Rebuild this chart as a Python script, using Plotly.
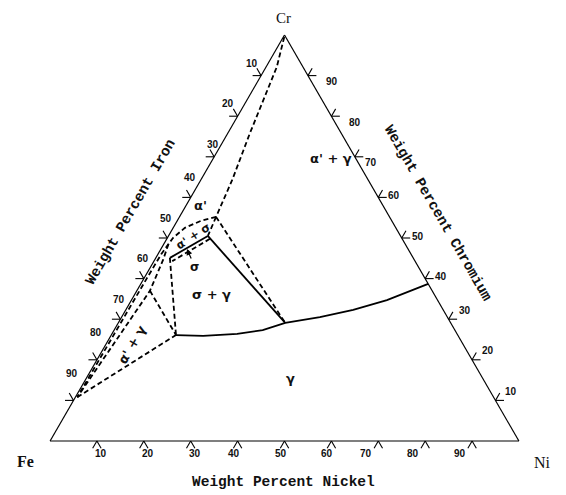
import plotly.graph_objects as go

# Fe-Cr-Ni section, compositions as wt% Cr / wt% Ni (Fe is the balance)
gamma_cr = [26.1, 25.9, 26.4, 27.3, 29.1, 30.5, 32.3, 34.7, 38.7]
gamma_ni = [13.8, 19.7, 26.7, 31.7, 35.6, 42.3, 48.5, 54.5, 61.3]
sig_gam_cr = [29.1, 50.5]
sig_gam_ni = [35.6, 8.4]
sigma_cr = [50.5, 45.1]
sigma_ni = [8.4, 3.0]

# dashed boundaries
alpha_top_cr = [99.5, 92.1, 75.9, 64.3, 55.2]
alpha_top_ni = [0.2, 2.3, 4.7, 6.7, 7.8]
dome_cr = [55.2, 54.2, 52.5, 50.0, 46.0, 40.0, 25.0, 10.8]
dome_ni = [7.8, 5.0, 2.5, 1.2, 0.7, 0.6, 0.5, 0.4]
inner_cr = [48.5, 44.6, 37.0, 10.8]
inner_ni = [1.0, 1.8, 2.8, 0.4]
sigma_low_cr = [49.8, 44.3]
sigma_low_ni = [9.2, 3.9]
tie_cr = [[55.2, 29.1], [55.2, 50.5], [10.8, 26.1], [37.0, 26.1], [45.1, 26.1]]
tie_ni = [[7.8, 35.6], [7.8, 8.4], [0.4, 13.8], [2.8, 13.8], [3.0, 13.8]]

tick_vals = [10, 20, 30, 40, 50, 60, 70, 80, 90]
stub = 1.8


def seg(cr, ni, dash="solid", width=1.8):
    fe = [100 - c - n for c, n in zip(cr, ni)]
    return go.Scatterternary(a=cr, b=fe, c=ni, mode="lines",
                             line=dict(color="black", width=width, dash=dash),
                             hoverinfo="skip", showlegend=False)


def paper(cr, ni):
    # ternary fills the plot area exactly, so a composition maps straight to paper coords
    return (ni + cr / 2) / 100, cr / 100


fig = go.Figure()

DASH = "5px,3px"
fig.add_trace(seg(gamma_cr, gamma_ni))
fig.add_trace(seg(sig_gam_cr, sig_gam_ni))
fig.add_trace(seg(sigma_cr, sigma_ni))
fig.add_trace(seg(alpha_top_cr, alpha_top_ni, DASH))
fig.add_trace(seg(dome_cr, dome_ni, DASH))
fig.add_trace(seg(inner_cr, inner_ni, DASH))
fig.add_trace(seg(sigma_low_cr, sigma_low_ni, DASH))
for c, n in zip(tie_cr, tie_ni):
    fig.add_trace(seg(c, n, DASH))

# double tick marks on the three edges + their labels
tick_font = dict(family="Liberation Sans", size=10, color="#111")
for v in tick_vals:
    stubs = [
        ((0, v), (-stub, v)), ((0, v), (-stub, v + stub)),                       # bottom: Ni
        ((100 - v, 0), (100 - v, -stub)), ((100 - v, 0), (100 - v + stub, -stub)),  # left: Fe
        ((v, 100 - v), (v, 100 - v + stub)), ((v, 100 - v), (v + stub, 100 - v)),  # right: Cr
    ]
    for p0, p1 in stubs:
        x0, y0 = paper(*p0)
        x1, y1 = paper(*p1)
        fig.add_shape(type="line", xref="paper", yref="paper", x0=x0, y0=y0, x1=x1, y1=y1,
                      line=dict(color="black", width=1.1))
    for cr, ni in [(-4.9, v + 1.6), (100 - v + 4.9, -4.4), (v + 0.4, 100 - v + 4.9)]:
        x, y = paper(cr, ni)
        fig.add_annotation(x=x, y=y, xref="paper", yref="paper", text="<b>%d</b>" % v,
                           showarrow=False, font=tick_font)

ax_style = dict(showgrid=False, showticklabels=False, ticks="", linecolor="black",
                linewidth=1.2, title=dict(text=""))
fig.update_layout(
    width=558, height=487,
    margin=dict(l=42, r=47, t=27, b=54),
    paper_bgcolor="white",
    ternary=dict(sum=100, bgcolor="white", domain=dict(x=[0, 1], y=[0, 1]),
                 aaxis=ax_style, baxis=ax_style, caxis=ax_style),
    showlegend=False,
)

mono = dict(family="Liberation Mono", size=14.5, color="#111")
serif = dict(family="Liberation Serif", size=16, color="#111")
greek = dict(family="DejaVu Sans", size=13, color="#111")


def note(x, y, text, font, angle=0, yanchor="middle"):
    fig.add_annotation(x=x, y=y, xref="paper", yref="paper", text=text, showarrow=False,
                       font=font, textangle=angle, xanchor="center", yanchor=yanchor)


note(0.497, -0.10, "<b>Weight Percent Nickel</b>", mono)
note(0.172, 0.564, "<b>Weight Percent Iron</b>", mono, -60)
note(0.827, 0.562, "<b>Weight Percent Chromium</b>", mono, 60)
note(0.497, 1.066, "Cr", dict(family="Liberation Serif", size=15, color="#111"), yanchor="top")
note(-0.053, -0.051, "<b>Fe</b>", serif)
note(1.05, -0.054, "Ni", serif)

note(0.320, 0.580, "<b>α'</b>", greek)
note(0.600, 0.695, "<b>α' + γ</b>", greek)
note(0.345, 0.360, "<b>σ + γ</b>", greek)
note(0.175, 0.238, "<b>α' + γ</b>", greek, -60)
note(0.305, 0.505, "<b>α' + σ</b>", dict(family="DejaVu Sans", size=11.5, color="#111"), -33)
note(0.513, 0.155, "<b>γ</b>", greek)
fig.add_annotation(x=0.292, y=0.473, xref="paper", yref="paper", text="<b>σ</b>",
                   showarrow=True, ax=8, ay=18, arrowhead=2, arrowsize=1, arrowwidth=1.2,
                   arrowcolor="black", font=dict(family="DejaVu Sans", size=12, color="#111"))

fig.write_html("out.html")
